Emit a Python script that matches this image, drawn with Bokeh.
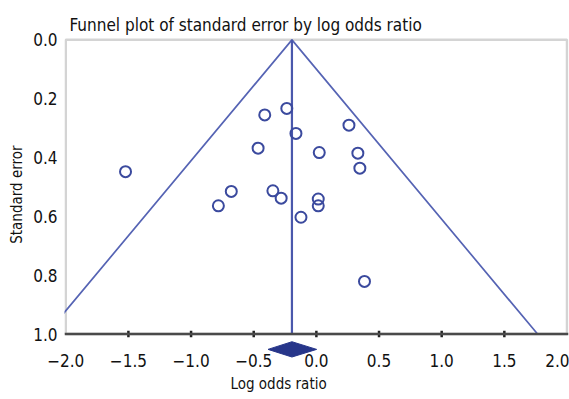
from bokeh.plotting import figure
from bokeh.models import Range1d, FixedTicker, Title, BoxAnnotation, Span, ColumnDataSource
from bokeh.embed import file_html
from bokeh.resources import INLINE

# ---- data ----
log_odds = [-1.523, -0.412, -0.236, -0.163, -0.465, 0.023, 0.260, 0.331, 0.347,
            -0.679, -0.782, -0.347, -0.281, 0.015, 0.015, -0.123, 0.384]
std_err = [0.448, 0.255, 0.233, 0.318, 0.368, 0.383, 0.290, 0.385, 0.436,
           0.515, 0.564, 0.513, 0.538, 0.541, 0.564, 0.603, 0.821]
pooled = -0.195
ci_low, ci_high = -0.386, 0.002
z = 1.96
se_max = 1.0
x_ticks = [-2.0, -1.5, -1.0, -0.5, 0.0, 0.5, 1.0, 1.5, 2.0]
y_ticks = [0.0, 0.2, 0.4, 0.6, 0.8, 1.0]

FONT = "DejaVu Sans Condensed, Liberation Sans Narrow, Roboto"
POINT = "#3b4a9e"
LINE = "#5664b4"
TXT = "#111111"

p = figure(width=569, height=399, output_backend="svg", toolbar_location=None,
           x_range=Range1d(-2.01, 2.012), y_range=Range1d(1.083, -0.008),
           min_border_left=61, min_border_right=1, min_border_top=37, min_border_bottom=41)
p.background_fill_color = "white"
p.border_fill_color = "white"
p.xgrid.visible = False
p.ygrid.visible = False
p.outline_line_color = None

# plot box (0..1 in standard error, -2..2 in log odds)
p.add_layout(BoxAnnotation(left=x_ticks[0], right=x_ticks[-1], top=y_ticks[0], bottom=y_ticks[-1],
                           fill_color=None, line_color="#707070", line_width=2.5, level="underlay"))
p.add_layout(Span(location=y_ticks[-1], dimension="width", line_color="#4a4a4a", line_width=2.5))
# x tick marks on the box bottom
p.segment(x0=x_ticks[1:-1], x1=x_ticks[1:-1], y0=[se_max - 0.011] * 7, y1=[se_max + 0.011] * 7,
          line_color="#222222", line_width=2.5)

# funnel
p.line([pooled - z * se_max, pooled, pooled + z * se_max], [se_max, 0.0, se_max],
       line_color=LINE, line_width=1.7)
p.line([pooled, pooled], [0.0, se_max], line_color="#4a58ac", line_width=2.2)

src = ColumnDataSource(dict(x=log_odds, y=std_err))
p.scatter("x", "y", source=src, marker="circle", size=11, fill_color=None,
          line_color=POINT, line_width=2)

# pooled estimate diamond (below the box)
d_mid, d_half = 1.052, 0.026
p.patch([ci_low, pooled, ci_high, pooled], [d_mid, d_mid - d_half, d_mid, d_mid + d_half],
        fill_color="#27368a", line_color="#27368a", line_width=1)

# axes
xa = p.xaxis[0]
xa.ticker = FixedTicker(ticks=x_ticks)
xa.major_label_overrides = {t: f"{t:.1f}".replace("-", "\u2212") for t in x_ticks}
xa.axis_line_color = None
xa.major_tick_line_color = None
xa.minor_tick_line_color = None
xa.major_tick_in = 0
xa.major_tick_out = 0
xa.major_label_standoff = -5
xa.major_label_text_font = FONT
xa.major_label_text_font_size = "17px"
xa.major_label_text_color = TXT

ya = p.yaxis[0]
ya.ticker = FixedTicker(ticks=y_ticks)
ya.major_label_overrides = {t: f"{t:.1f}" for t in y_ticks}
ya.axis_line_color = None
ya.major_tick_line_color = None
ya.minor_tick_line_color = None
ya.major_tick_in = 0
ya.major_tick_out = 0
ya.major_label_standoff = 7
ya.major_label_text_font = FONT
ya.major_label_text_font_size = "17px"
ya.major_label_text_color = TXT

# titles
p.title = Title(text="Funnel plot of standard error by log odds ratio", align="left", offset=5,
                text_font=FONT, text_font_size="17px", text_font_style="normal",
                text_color=TXT, standoff=5)
p.add_layout(Title(text="Log odds ratio", align="left", offset=166, text_font=FONT,
                   text_font_size="15px", text_font_style="normal", text_color=TXT,
                   vertical_align="top", standoff=10), "below")
p.add_layout(Title(text="Standard error", align="right", offset=108, text_font=FONT,
                   text_font_size="15px", text_font_style="normal", text_color=TXT), "left")

open("out.html", "w").write(file_html(p, INLINE))
